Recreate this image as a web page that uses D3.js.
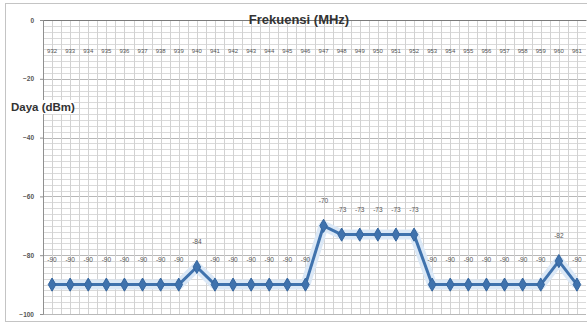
<!DOCTYPE html>
<html>
<head>
<meta charset="utf-8">
<script src="https://cdn.jsdelivr.net/npm/d3@7/dist/d3.min.js"></script>
<style>
  html, body { margin: 0; padding: 0; background: #fff; }
  svg { display: block; }
</style>
</head>
<body>
<script>
// Measured received power per channel frequency
const frequencies = [932, 933, 934, 935, 936, 937, 938, 939, 940, 941, 942, 943, 944, 945, 946,
                     947, 948, 949, 950, 951, 952, 953, 954, 955, 956, 957, 958, 959, 960, 961];
const powerDbm = [-90, -90, -90, -90, -90, -90, -90, -90, -84, -90, -90, -90, -90, -90, -90,
                  -70, -73, -73, -73, -73, -73, -90, -90, -90, -90, -90, -90, -90, -82, -90];
const yTicks = [0, -20, -40, -60, -80, -100];
const xTitle = "Frekuensi (MHz)";
const yTitle = "Daya (dBm)";

const W = 587, H = 326;
const plot = { left: 43, right: 586, top: 20, bottom: 314 };
const font = "Liberation Sans, Arial, sans-serif";

const svg = d3.select("body").append("svg").attr("width", W).attr("height", H);

// chart frame
svg.append("rect")
  .attr("x", 5.5).attr("y", 3.5).attr("width", W + 5).attr("height", 318)
  .attr("fill", "#fff").attr("stroke", "#c4c4c4").attr("stroke-width", 1);

const x = d3.scaleBand().domain(frequencies).range([plot.left, plot.right]);
const y = d3.scaleLinear().domain([-100, 0]).range([plot.bottom, plot.top]);

const grid = svg.append("g");

// minor horizontal gridlines every 2 dB
d3.range(-100, 1, 2).forEach(v => {
  grid.append("line")
    .attr("x1", plot.left).attr("x2", plot.right)
    .attr("y1", Math.round(y(v)) + 0.5).attr("y2", Math.round(y(v)) + 0.5)
    .attr("stroke", v % 20 === 0 ? "#b8b8b8" : "#dadada").attr("stroke-width", 1);
});

// vertical gridlines at band edges and centres
const step = x.step();
frequencies.forEach(f => {
  [x(f), x(f) + step / 2].forEach(px => {
    grid.append("line")
      .attr("x1", Math.round(px) + 0.5).attr("x2", Math.round(px) + 0.5)
      .attr("y1", plot.top).attr("y2", plot.bottom)
      .attr("stroke", "#d2d2d2").attr("stroke-width", 1);
  });
});

// value axis on the left
const yAxis = d3.axisLeft(y).tickValues(yTicks).tickSize(3).tickFormat(d3.format("d"));
const yg = svg.append("g").attr("transform", `translate(${plot.left},0)`).call(yAxis);
yg.select(".domain").attr("stroke", "#909090");
yg.selectAll(".tick line").attr("stroke", "#909090");
yg.selectAll(".tick text")
  .attr("x", -9)
  .attr("font-family", font).attr("font-weight", "bold")
  .attr("font-size", 6.5).attr("fill", "#555");

// category axis along the 0 dB line, labels placed a little below it
const xAxis = d3.axisTop(x).tickSize(0).tickSizeOuter(0);
const xg = svg.append("g").attr("transform", `translate(0,${y(0)})`).call(xAxis);
xg.select(".domain").attr("stroke", "#7a7a7a");
xg.selectAll(".tick text")
  .attr("y", 33)
  .attr("font-family", font)
  .attr("font-size", 6).attr("fill", "#555");

// titles
svg.append("text")
  .attr("x", 299).attr("y", 24)
  .attr("text-anchor", "middle")
  .attr("font-family", font).attr("font-weight", "bold")
  .attr("font-size", 13).attr("fill", "#333")
  .text(xTitle);

const yt = svg.append("g");
yt.append("rect").attr("x", 10).attr("y", 100).attr("width", 64).attr("height", 14).attr("fill", "#fff");
yt.append("text")
  .attr("x", 11).attr("y", 111)
  .attr("font-family", font)
  .attr("font-size", 11.5).attr("font-weight", "bold").attr("fill", "#333")
  .text(yTitle);

// series line with soft glow
const cx = f => x(f) + step / 2;
const line = d3.line().x((d, i) => cx(frequencies[i])).y(d => y(d));

svg.append("path").datum(powerDbm)
  .attr("d", line).attr("fill", "none")
  .attr("stroke", "#dbe8f6").attr("stroke-width", 10)
  .attr("stroke-linejoin", "round");
svg.append("path").datum(powerDbm)
  .attr("d", line).attr("fill", "none")
  .attr("stroke", "#3f72ad").attr("stroke-width", 3)
  .attr("stroke-linejoin", "round");

// diamond markers
const diamond = d3.symbol().type(d3.symbolDiamond).size(50);
svg.append("g").selectAll("path")
  .data(powerDbm)
  .join("path")
  .attr("d", diamond)
  .attr("transform", (d, i) => `translate(${cx(frequencies[i])},${y(d)})`)
  .attr("fill", "#3f72ad").attr("stroke", "#35669f").attr("stroke-width", 1);

// value labels above points
svg.append("g").selectAll("text")
  .data(powerDbm)
  .join("text")
  .attr("x", (d, i) => cx(frequencies[i]))
  .attr("y", d => y(d) - 23)
  .attr("text-anchor", "middle")
  .attr("font-family", font)
  .attr("font-size", 6.5).attr("fill", "#555")
  .text(d => d);
</script>
</body>
</html>
